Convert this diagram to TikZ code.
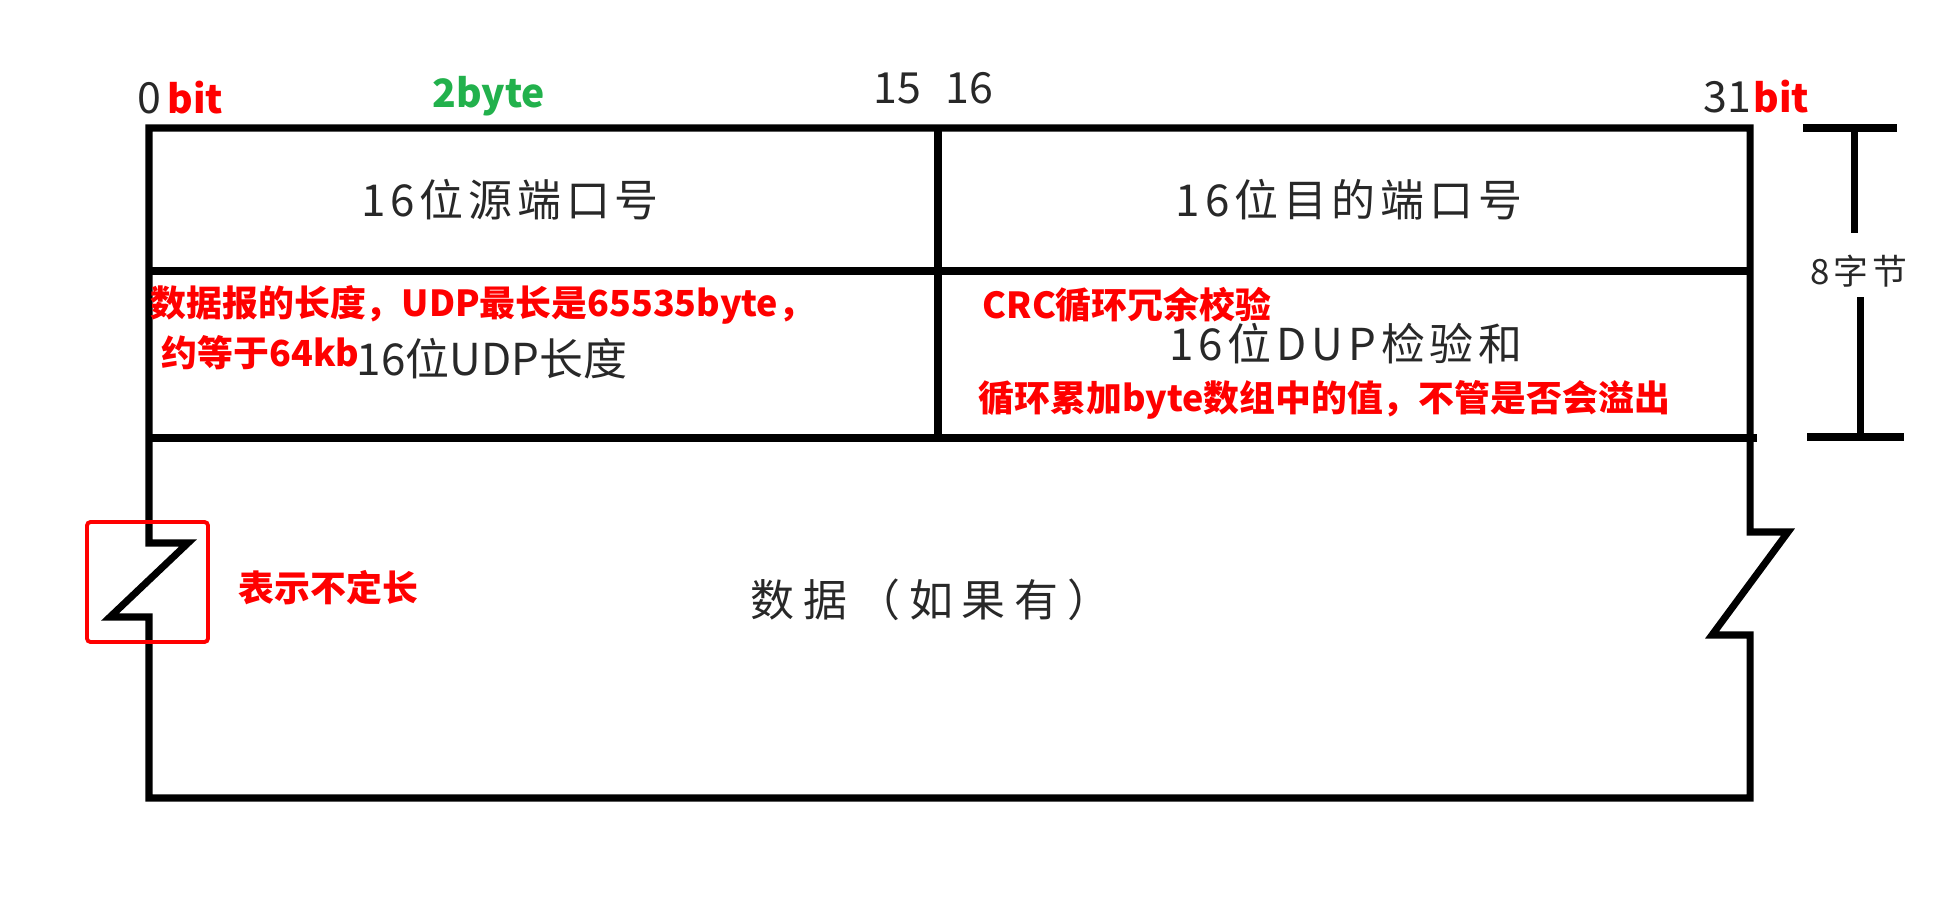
\documentclass[tikz,border=0pt]{standalone}
\usepackage{fontspec}
\newfontfamily\cjk{Noto Sans CJK SC}
\newfontfamily\cjkls[LetterSpace=11]{Noto Sans CJK SC}
\newfontfamily\cjklsn[LetterSpace=0]{Noto Sans CJK SC}
\newfontfamily\cjklsw[LetterSpace=20]{Noto Sans CJK SC}
\definecolor{udpred}{RGB}{255,0,0}
\definecolor{udpgreen}{RGB}{34,177,76}
\definecolor{ink}{RGB}{40,40,40}
\begin{document}
\begin{tikzpicture}[x=0.01cm,y=-0.01cm,
  frame/.style={line width=2.0pt, line join=miter},
  lbl/.style={inner sep=0, text=ink, font=\cjkls\fontsize{12.5}{14}\selectfont},
  note/.style={inner sep=0, text=udpred, font=\cjk\bfseries\fontsize{10.2}{12}\selectfont, anchor=west},
  num/.style={inner sep=0, text=ink, font=\cjk\fontsize{12.2}{14}\selectfont, anchor=base west},
  unit/.style={inner sep=0, font=\cjk\bfseries\fontsize{11.1}{13}\selectfont, anchor=base west},
  bytes/.style={inner sep=0, text=ink, font=\cjkls\fontsize{9.9}{11}\selectfont}
]
\useasboundingbox (0,0) rectangle (1942,897);
% outer frame with break marks
\draw[frame] (149,128) -- (1750,128) -- (1750,532) -- (1788,532) -- (1712,635) -- (1750,635)
  -- (1750,798) -- (149,798) -- (149,617) -- (110,617) -- (188,543) -- (149,543) -- cycle;
\draw[frame] (149,271) -- (1750,271);
\draw[frame] (149,438) -- (1757,438);
\draw[frame] (938,128) -- (938,438);
% 8 byte bracket
\node[bytes] (bytes) at (1859,271) {8字节};
\coordinate (bt1) at (1803,128); \coordinate (bt2) at (1897,128);
\coordinate (bu1) at (1854,128); \coordinate (bu2) at (1854,233);
\coordinate (bl1) at (1860,297); \coordinate (bl2) at (1860,437);
\coordinate (bb1) at (1807,437); \coordinate (bb2) at (1904,437);
\draw[frame] (bt1) -- (bt2);
\draw[frame] (bu1) -- (bu2);
\draw[frame] (bl1) -- (bl2);
\draw[frame] (bb1) -- (bb2);
% red marker box
\draw[udpred, line width=1.1pt, rounded corners=1pt] (87,522) rectangle (208,642);
% field labels
\node[lbl] (src) at (510,200) {16位源端口号};
\node[lbl] (dst) at (1349,200) {16位目的端口号};
\node[lbl, font=\cjklsn\fontsize{12.5}{14}\selectfont] (len) at (492,359) {16位UDP长度};
\node[lbl] (chk) at (1346,344) {16位DUP检验和};
\node[lbl, font=\cjklsw\fontsize{12.5}{14}\selectfont] (data) at (931,600) {数据（如果有）};
% notes
\node[note] (lennote1) at (150,305) {数据报的长度，UDP最长是65535byte，};
\node[note] (lennote2) at (161,353) {约等于64kb};
\node[note] (crc) at (982,305) {CRC循环冗余校验};
\node[note] (sum) at (978,400) {循环累加byte数组中的值，不管是否会溢出};
\node[note] (var) at (238,588) {表示不定长};
% bit scale
\node[num] (b0) at (137,113) {0};
\node[unit, text=udpred] (bit0) at (167,113) {bit};
\node[unit, text=udpgreen] (byte2) at (432,107) {2byte};
\node[num] (n15) at (873,103) {15};
\node[num] (n16) at (945,103) {16};
\node[num] (n31) at (1703,112) {31};
\node[unit, text=udpred] (bit31) at (1753,112) {bit};
\end{tikzpicture}
\end{document}
